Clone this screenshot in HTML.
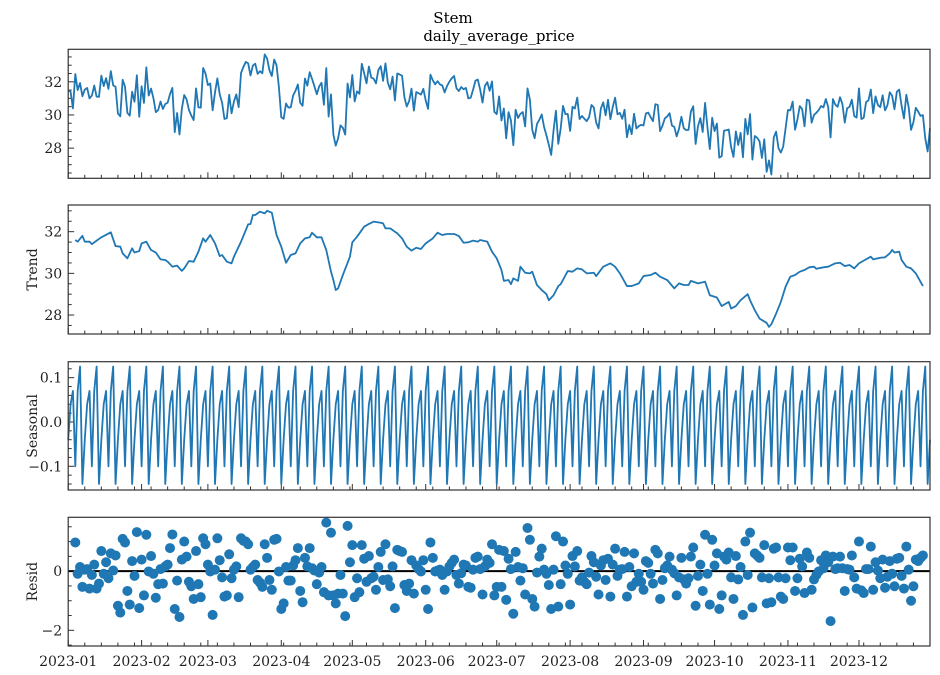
<!DOCTYPE html>
<html><head><meta charset="utf-8"><style>
body{margin:0;background:#fff;}
svg{display:block;font-family:"DejaVu Serif","Liberation Serif",serif;}
</style></head><body>
<svg id="c" width="940" height="675" viewBox="0 0 940 675">
<text x="453" y="23" font-size="15" text-anchor="middle">Stem</text>
<text x="499" y="41" font-size="15" text-anchor="middle">daily_average_price</text>
</svg>
<script>
const monthLabels=["2023-01","2023-02","2023-03","2023-04","2023-05","2023-06","2023-07","2023-08","2023-09","2023-10","2023-11","2023-12"];
const monthDays=[0,31,59,90,120,151,181,212,243,273,304,334];
const trendDays=[3,4,6,7,9,10,12,14,18,20,22,23,25,27,28,30,31,33,35,37,39,41,42,44,46,48,49,51,53,55,57,58,60,62,64,65,67,69,70,73,76,77,78,79,81,83,84,86,88,90,92,94,96,98,100,102,103,105,107,109,111,112,113,114,116,119,120,122,125,127,129,132,133,134,136,139,141,143,145,147,149,151,154,156,158,160,163,165,167,169,171,173,174,177,179,181,183,184,186,187,188,190,191,193,195,196,198,200,202,203,205,207,208,211,213,215,217,219,222,223,226,229,231,233,236,238,241,243,246,248,250,253,256,258,260,262,263,266,269,271,274,276,279,280,282,284,287,288,290,292,295,296,297,299,301,303,305,307,309,311,313,315,316,319,321,324,326,328,330,332,334,336,339,340,343,345,347,348,349,351,352,354,356,358,361];
const trendValues=[31.6,31.52,31.8,31.52,31.52,31.4,31.57,31.73,31.97,31.31,31.28,30.96,30.72,31.2,31.0,31.07,31.44,31.52,31.12,31.0,30.67,30.64,30.56,30.32,30.37,30.12,30.24,30.59,30.56,31.04,31.68,31.52,31.84,31.44,30.83,30.88,30.56,30.48,30.8,31.52,32.35,32.37,32.8,32.8,32.96,32.88,33.0,32.91,31.84,31.28,30.51,30.88,30.96,31.44,31.68,31.73,31.95,31.73,31.73,31.12,30.08,29.68,29.2,29.28,29.92,30.8,31.49,31.76,32.24,32.37,32.48,32.43,32.4,32.16,32.16,31.92,31.68,31.28,31.09,31.23,31.17,31.44,31.68,31.95,31.84,31.89,31.89,31.79,31.47,31.49,31.57,31.52,31.6,31.52,31.04,30.72,30.16,29.64,29.68,29.48,29.76,29.64,30.32,30.03,30.0,30.08,29.44,29.2,29.0,28.71,28.95,29.39,29.48,30.11,30.08,30.24,30.19,30.0,30.03,29.87,30.32,30.48,30.32,30.0,29.39,29.39,29.52,29.87,29.92,30.03,29.84,29.68,29.28,29.52,29.44,29.44,29.64,29.52,29.6,28.95,28.84,28.43,28.63,28.31,28.43,28.71,29.0,28.71,28.23,27.83,27.62,27.43,27.56,28.07,28.63,29.36,29.84,29.92,30.08,30.16,30.29,30.32,30.22,30.29,30.32,30.48,30.51,30.35,30.4,30.24,30.48,30.61,30.8,30.67,30.75,30.77,30.96,31.12,31.0,31.04,30.64,30.32,30.24,30.0,29.39];
const seasonalPattern=[-0.04,0.04,0.07,-0.10,0.07,0.125,-0.14];
const residFirstDay=3;
const residValues=[0.97,-0.09,0.14,-0.53,0.05,0.07,-0.59,-0.13,0.22,-0.59,-0.42,0.68,-0.09,0.30,-0.24,0.6,0.02,0.53,-1.17,-1.40,1.09,0.97,-0.67,-1.13,0.34,-0.16,1.32,-1.25,0.39,-0.82,1.23,-0.01,0.51,-0.09,-0.9,-0.44,0.07,-0.42,0.16,0.22,0.78,1.24,-1.28,-0.32,-1.55,0.39,1.0,0.49,-0.36,-0.51,-0.94,0.68,-0.44,-0.88,1.11,0.91,0.22,-0.01,-1.48,0.05,1.11,0.37,-0.21,-0.86,-0.82,0.57,-0.24,0.05,0.16,-0.88,1.11,1.03,1.0,0.91,0.05,0.14,0.22,-0.3,-0.39,-0.53,0.91,0.45,-0.3,-0.63,1.06,1.09,-0.01,-1.28,-1.09,0.14,-0.32,-0.32,0.19,0.37,0.78,-0.67,-1.05,0.45,0.16,0.78,0.1,0.02,-0.44,-0.05,0.14,-0.71,1.64,-0.82,1.30,-0.82,-1.09,-0.76,-0.13,-0.76,-1.52,1.53,0.3,0.88,-0.88,-0.24,-0.71,0.88,0.42,-0.36,0.51,-0.24,-0.19,-0.63,0.14,0.65,-0.3,0.91,-0.28,-0.51,0.16,-1.25,0.72,0.68,0.65,-0.47,-0.67,-0.42,0.37,-0.76,0.19,0.07,-0.01,0.37,-0.63,-1.28,0.97,0.45,-0.01,0.02,0.05,-0.13,-0.63,-0.01,0.16,0.28,0.39,-0.13,-0.42,-0.07,0.22,0.19,-0.53,-0.56,0.05,0.45,0.49,0.07,-0.79,0.16,0.39,0.28,0.91,-0.82,-0.53,0.72,
-0.53,0.68,-0.97,0.42,0.07,-1.44,0.65,0.14,-0.32,0.1,-0.79,1.46,1.06,-0.94,-1.2,-0.05,0.49,0.76,0.05,-0.09,-0.47,-1.28,0.05,1.18,-1.2,-0.44,1.0,0.19,-0.09,-1.13,0.51,0.16,0.68,-0.32,-0.21,-0.36,-0.44,-0.05,0.51,0.3,-0.19,-0.79,0.19,0.37,-0.3,0.42,-0.86,0.22,0.76,-0.16,0.05,0.07,0.65,-0.86,0.14,-0.51,0.6,-0.36,-0.09,-0.36,-0.63,0.34,0.28,-0.09,-0.42,0.72,0.6,-0.94,-0.3,0.1,0.19,0.49,0.05,-0.07,-0.82,-0.21,0.45,-0.28,-0.42,-0.24,0.49,0.8,-1.17,-0.16,0.22,-0.67,1.23,-0.09,-1.13,1.06,0.19,0.6,-1.28,-0.82,0.49,0.39,0.63,-0.21,-0.94,0.51,-0.28,0.14,-1.48,1.0,-0.13,1.3,-1.23,0.6,0.53,0.45,-0.21,0.88,-1.09,-0.24,-1.05,0.76,0.8,-0.21,-0.86,-0.94,-0.24,0.8,0.37,0.8,-0.67,-0.24,0.42,0.16,-0.74,0.63,0.45,-0.63,-0.28,-0.13,-0.01,0.37,0.1,0.53,0.3,-1.69,0.49,0.07,0.1,0.49,0.1,-0.67,0.07,0.05,0.53,-0.21,-0.59,1.0,-0.65,-0.74,0.07,0.07,0.83,-0.63,0.3,0.02,-0.24,0.39,-0.56,-0.19,0.34,-0.09,-0.51,0.42,0.45,-0.16,-0.59,0.83,0.05,-1.0,-0.51,0.39,0.34,0.45,0.53];
const observedStart=[31.5,31.4,30.4];
const observedEnd=[28.6,27.8,29.2];
const NDAYS=365;

const svg=document.getElementById('c');
const NS='http://www.w3.org/2000/svg';
function mk(tag,attrs,parent){const e=document.createElementNS(NS,tag);for(const k in attrs)e.setAttribute(k,attrs[k]);(parent||svg).appendChild(e);return e;}
const X0=68.2,X1=930;
const xs=d=>X0+(X1-X0)*d/(NDAYS-1);
function trendAt(d){
  if(d<trendDays[0]||d>trendDays[trendDays.length-1])return null;
  for(let i=0;i<trendDays.length-1;i++){if(d>=trendDays[i]&&d<=trendDays[i+1]){const t=(d-trendDays[i])/(trendDays[i+1]-trendDays[i]);return trendValues[i]+t*(trendValues[i+1]-trendValues[i]);}}
  return trendValues[trendValues.length-1];
}
const seasonalAt=d=>seasonalPattern[d%7];
const residAt=d=>{const i=d-residFirstDay;return(i>=0&&i<residValues.length&&d<=361)?residValues[i]:null;};
// observed = trend + seasonal + resid (additive decomposition identity)
function observedAt(d){
  if(d<3)return observedStart[d];
  if(d>=NDAYS-3)return observedEnd[d-(NDAYS-3)];
  const t=trendAt(d);const r=residAt(d);
  return t+seasonalAt(d)+(r===null?0:r);
}
function panel(name,top,bot,ymin,ymax,majors,fmt,minorStep,ylabel,showX){
  const g=mk('g',{});
  
  
  const ys=v=>bot-(v-ymin)/(ymax-ymin)*(bot-top);
  // ticks
  for(let v=Math.ceil(ymin/minorStep)*minorStep;v<=ymax+1e-9;v+=minorStep){
    const isMajor=majors.some(m=>Math.abs(m-v)<1e-6);
    const t=mk('line',{x1:X0,x2:X0+(isMajor?6:3.5),y1:ys(v),y2:ys(v),stroke:'#333','stroke-width':1},g);
    
    
  }
  majors.forEach(m=>{const t=mk('text',{x:X0-6,y:ys(m)+5,'font-size':14,'text-anchor':'end',fill:'#222'},g);t.textContent=fmt(m);
    
    });
  for(let d=7;d<NDAYS;d+=7){if(monthDays.includes(d))continue;
    const t=mk('line',{x1:xs(d),x2:xs(d),y1:bot,y2:bot-3.5,stroke:'#333','stroke-width':1},g);
    
    }
  monthDays.forEach((d,i)=>{const t=mk('line',{x1:xs(d),x2:xs(d),y1:bot,y2:bot-6,stroke:'#333','stroke-width':1},g);
    
    
    if(showX){const l=mk('text',{x:xs(d),y:bot+20,'font-size':14,'text-anchor':'middle',fill:'#222'},g);l.textContent=monthLabels[i];
      
      }
  });
  if(ylabel){const l=mk('text',{x:0,y:0,'font-size':14,'text-anchor':'middle',fill:'#222',transform:`translate(37,${(top+bot)/2}) rotate(-90)`},g);l.textContent=ylabel;
    
    }
  return {g,ys,top,bot};
}
function frame(p,name){const r=mk('rect',{x:X0,y:p.top,width:X1-X0,height:p.bot-p.top,fill:'none',stroke:'#333','stroke-width':1.2},p.g);
  
  }
function line(p,pts,name){const l=mk('polyline',{points:pts.map(q=>q[0].toFixed(2)+','+q[1].toFixed(2)).join(' '),fill:'none',stroke:'#1f77b4','stroke-width':1.8,'stroke-linejoin':'round'},p.g);
  
  }

// observed
const p1=panel('observed',49.3,178.3,26.18,33.96,[28,30,32],v=>String(v),0.5,null,false);
const obsPts=[];for(let d=0;d<NDAYS;d++)obsPts.push([xs(d),p1.ys(observedAt(d))]);
line(p1,obsPts,'observed-line');frame(p1,'observed');
// trend
const p2=panel('trend',205,334,27.09,33.28,[28,30,32],v=>String(v),0.5,'Trend',false);
line(p2,trendDays.map((d,i)=>[xs(d),p2.ys(trendValues[i])]),'trend-line');frame(p2,'trend');
// seasonal
const p3=panel('seasonal',361.7,490,-0.1535,0.136,[-0.1,0,0.1],v=>v===0?'0.0':(v<0?'\u22120.1':'0.1'),0.02,'Seasonal',false);
const sPts=[];for(let d=0;d<NDAYS;d++)sPts.push([xs(d),p3.ys(seasonalAt(d))]);
line(p3,sPts,'seasonal-line');frame(p3,'seasonal');
// resid
const p4=panel('resid',517.3,646,-2.53,1.82,[-2,0],v=>v===0?'0':'\u22122',0.5,'Resid',true);
const zl=mk('line',{x1:X0,x2:X1,y1:p4.ys(0),y2:p4.ys(0),stroke:'#000','stroke-width':2},p4.g);


residValues.forEach((v,i)=>{const d=residFirstDay+i;if(d>361)return;
  const c=mk('circle',{cx:xs(d),cy:p4.ys(v),r:5,fill:'#1f77b4'},p4.g);
  
  });
frame(p4,'resid');
</script>
</body></html>
